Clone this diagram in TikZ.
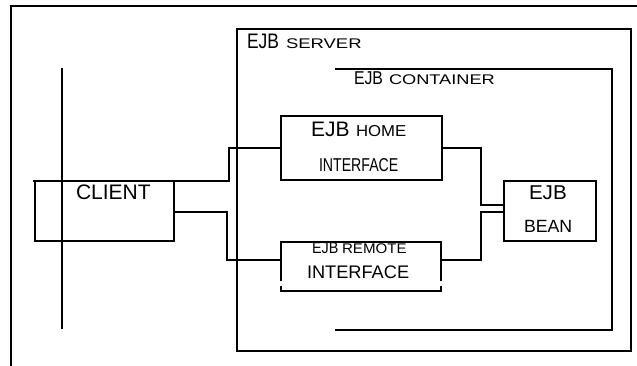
\documentclass[tikz,border=0pt]{standalone}
\usepackage{fontspec}
\setmainfont{Liberation Sans}
% size, horizontal stretch, text
\newcommand{\sx}[3]{\scalebox{#2}[1]{\fontsize{#1pt}{#1pt}\selectfont #3}}
\begin{document}
\begin{tikzpicture}[x=1pt,y=-1pt,
  line join=miter,
  box/.style={rectangle, inner sep=0pt, outer sep=0pt, anchor=north west},
  lbl/.style={inner sep=0pt, outer sep=0pt, anchor=base west},
  wire/.style={line width=2pt},
  heavy/.style={line width=2.5pt},
]
\useasboundingbox (0,0) rectangle (637,366);

% page frame (open to the right and bottom)
\draw[line width=2.4pt] (11,366) -- (11,6) -- (637,6);

% client tier line
\draw[line width=1.5pt] (62,68) -- (62,329);

% server and container
\node[box, draw, line width=1.6pt, minimum width=394pt, minimum height=322pt] (server) at (237,29) {};
\draw[line width=2.4pt] (335,69) -- (612,69) -- (612,330) -- (335,330);

% boxes
\node[box, draw, wire, minimum width=139pt, minimum height=60pt] (client) at (35,181) {};
\node[box, draw, line width=2.5pt, minimum width=161pt, minimum height=64pt] (home) at (281,116) {};
\node[box, minimum width=160pt, minimum height=49pt] (remote) at (281,242) {};
\node[box, draw, wire, minimum width=92pt, minimum height=60pt] (bean) at (504,181) {};

% labels
\node[lbl] (srvA) at (247,49) {\sx{21}{0.83}{EJB}};
\node[lbl] (srvB) at (286,49) {\sx{14}{1.32}{SERVER}};
\node[lbl] (conA) at (354,85) {\sx{18.6}{0.85}{EJB}};
\node[lbl] (conB) at (389,85) {\sx{14}{1.3}{CONTAINER}};
\node[lbl] (homeA) at (311,137) {\sx{21}{1}{EJB}};
\node[lbl] (homeB) at (356,137) {\sx{15.8}{1.06}{HOME}};
\node[lbl] (homeC) at (319,172) {\sx{18.6}{0.76}{INTERFACE}};
\node[lbl] (clientA) at (76,200) {\sx{21}{1}{CLIENT}};
\node[lbl] (remA) at (312,253) {\sx{16}{0.9}{EJB}};
\node[lbl] (remB) at (342,253) {\sx{14}{1.08}{REMOTE}};
\node[lbl] (remC) at (307,278) {\sx{18.2}{1}{INTERFACE}};
\node[lbl] (beanA) at (529,200) {\sx{20}{1.03}{EJB}};
\node[lbl] (beanB) at (524,233) {\sx{17.7}{1}{BEAN}};

% remote interface outline with broken lower corners
\draw[wire] ([yshift=10pt]remote.south west) -- (remote.north west) -- (remote.north east) -- ([yshift=10pt]remote.south east);
\draw[wire] ([yshift=5pt]remote.south west) -- (remote.south west) -- (remote.south east) -- ([yshift=5pt]remote.south east);

% connector bends
\coordinate (j1) at (229,148);
\coordinate (j2) at (227,260);
\coordinate (j3) at (481,205);
\coordinate (j4) at (481,212);

% connectors
\draw[heavy] ([xshift=-2pt]client.north west) -| (j1) -- (home.west);
\draw[wire] (client.east |- 0,212) -| (j2) -- (remote.west |- j2);
\draw[heavy] (home.east) -| (j3) -- (bean.west |- j3);
\draw[wire] (remote.east |- j2) -| (j4) -- (bean.west |- j4);
\end{tikzpicture}
\end{document}
